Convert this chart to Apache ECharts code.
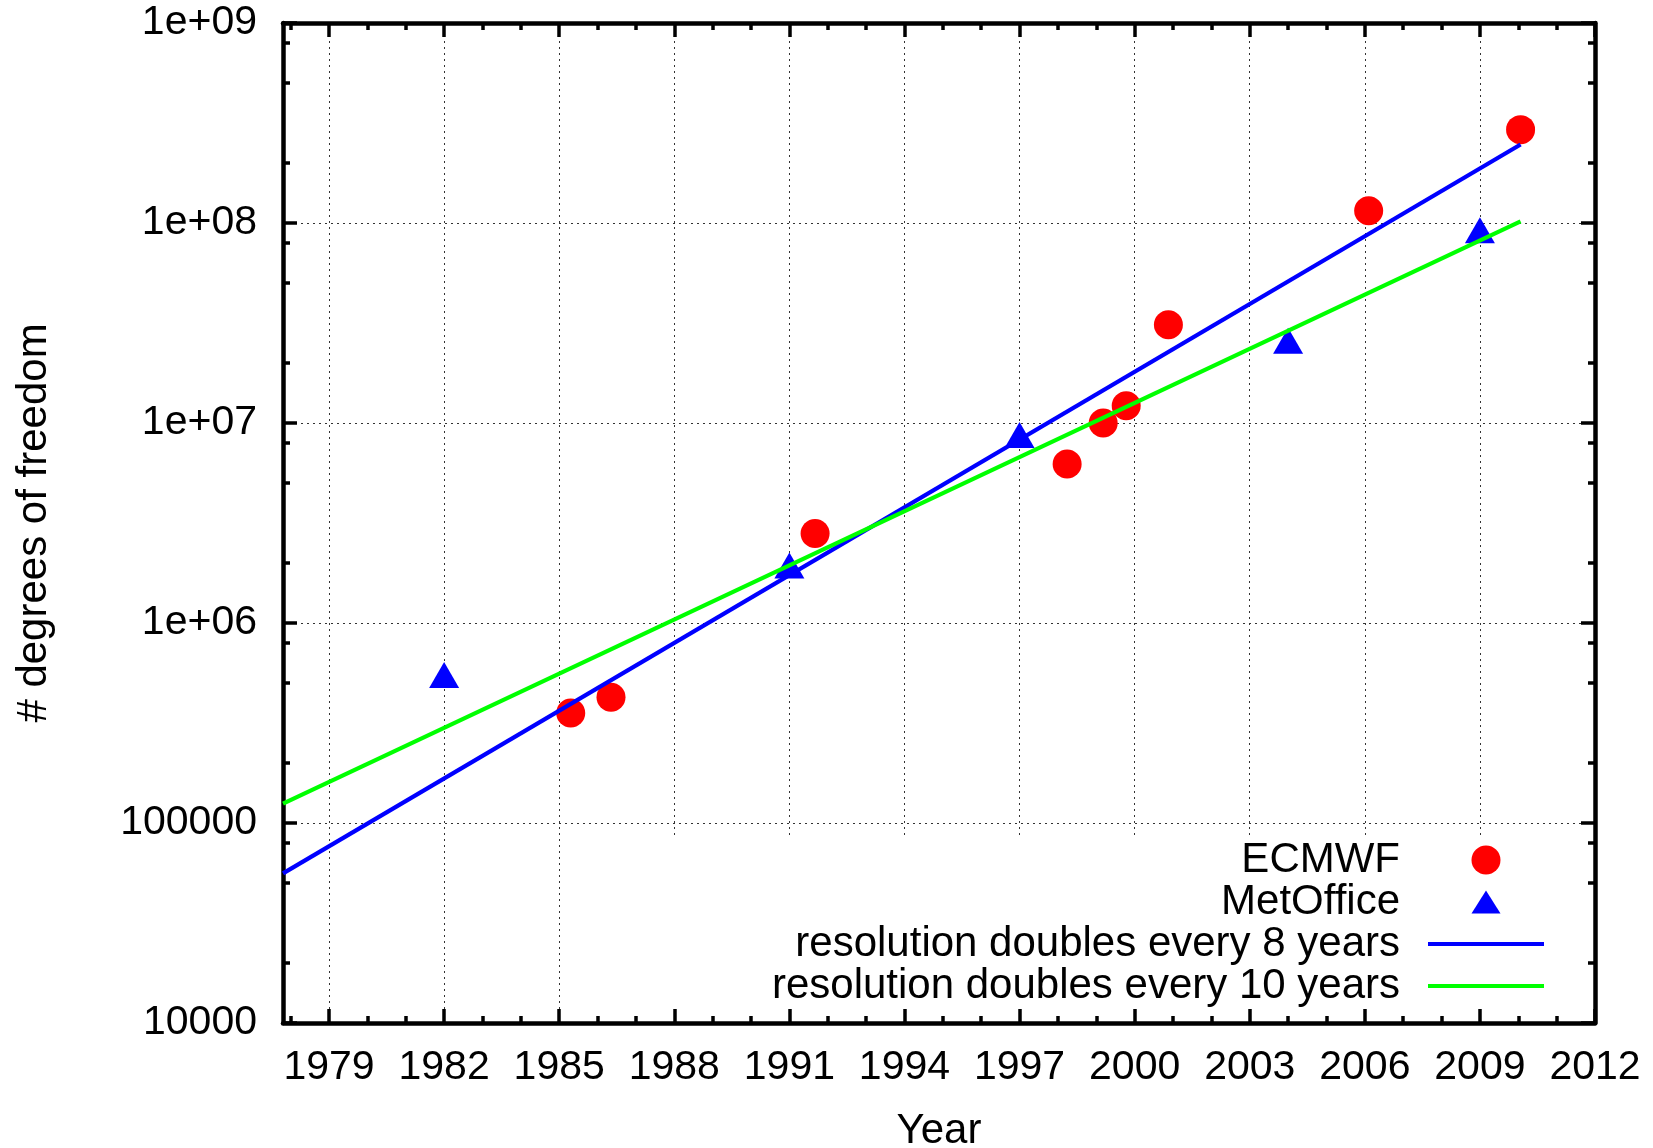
<!DOCTYPE html>
<html>
<head>
<meta charset="utf-8">
<script src="https://cdn.jsdelivr.net/npm/echarts@6/dist/echarts.min.js"></script>
<style>
html, body { margin: 0; padding: 0; background: #fff; }
#chart { width: 1653px; height: 1148px; }
</style>
</head>
<body>
<div id="chart"></div>
<script>
// Degrees of freedom of operational weather models, by year
const ecmwfYears = [1985.3, 1986.35, 1991.67, 1998.24, 1999.18, 1999.78, 2000.88, 2006.1, 2010.06];
const ecmwfDof = [3.55e5, 4.25e5, 2.8e6, 6.24e6, 1.0e7, 1.22e7, 3.1e7, 1.15e8, 2.93e8];
const metOfficeYears = [1982, 1991, 1997, 2004, 2009];
const metOfficeDof = [5.5e5, 1.94e6, 8.7e6, 2.58e7, 9.2e7];

// Trend lines (end points)
const trend8Years = [1977.8, 2010.06];
const trend8Dof = [5.6e4, 2.47e8];
const trend10Years = [1977.8, 2010.06];
const trend10Dof = [1.25e5, 1.02e8];

// Axis ticks
const xTicks = [1979, 1982, 1985, 1988, 1991, 1994, 1997, 2000, 2003, 2006, 2009, 2012];
const xMinorTicks = [1978, 1980, 1981, 1983, 1984, 1986, 1987, 1989, 1990, 1992, 1993, 1995, 1996,
  1998, 1999, 2001, 2002, 2004, 2005, 2007, 2008, 2010, 2011];
const yTicks = [1e4, 1e5, 1e6, 1e7, 1e8, 1e9];
const yTickLabels = ['10000', '100000', '1e+06', '1e+07', '1e+08', '1e+09'];
const yMinorTicks = [2e4, 5e4, 8e4, 2e5, 5e5, 8e5, 2e6, 5e6, 8e6, 2e7, 5e7, 8e7, 2e8, 5e8, 8e8];

const FONT = "'Liberation Sans', Arial, Helvetica, sans-serif";
const X_MIN = 1977.8, X_MAX = 2012;
const Y_MIN = 1e4, Y_MAX = 1e9;

const zip = (xs, ys) => xs.map((x, i) => [x, ys[i]]);

function yLabel(v) {
  for (let i = 0; i < yTicks.length; i++) {
    if (Math.abs(Math.log10(v) - Math.log10(yTicks[i])) < 1e-6) return yTickLabels[i];
  }
  return '';
}

const frameLine = { show: true, onZero: false, lineStyle: { color: '#000', width: 4.5 } };
const gridDots = { show: true, lineStyle: { color: '#333', width: 1, type: [2, 4] } };
const majorTick = (vals) => ({ show: true, inside: true, length: 14, customValues: vals,
  lineStyle: { color: '#000', width: 3.5 } });
const minorTick = (vals) => ({ show: true, inside: true, length: 7, customValues: vals,
  lineStyle: { color: '#000', width: 3.5 } });

function xAx(pos, ticks, isMajor, extra) {
  return Object.assign({
    type: 'value', min: X_MIN, max: X_MAX, position: pos,
    axisLine: isMajor ? frameLine : { show: false },
    axisTick: isMajor ? majorTick(ticks) : minorTick(ticks),
    axisLabel: { show: false },
    splitLine: { show: false }
  }, extra || {});
}
function yAx(pos, ticks, isMajor, extra) {
  return Object.assign({
    type: 'log', logBase: 10, min: Y_MIN, max: Y_MAX, position: pos,
    axisLine: isMajor ? frameLine : { show: false },
    axisTick: isMajor ? majorTick(ticks) : minorTick(ticks),
    axisLabel: { show: false },
    splitLine: { show: false }
  }, extra || {});
}

// Legend sample for the trend lines: a thin bar centred in the icon box
const LINE_ICON = 'path://M0,0M0,29M0,12.4L116,12.4L116,16.6L0,16.6Z';
const TRIANGLE_ICON = 'path://M0,0M0,29M14.5,3L29,26L0,26Z';

const chart = echarts.init(document.getElementById('chart'), null, { renderer: 'canvas' });

chart.setOption({
  animation: false,
  backgroundColor: '#fff',
  textStyle: { fontFamily: FONT },
  grid: { left: 283, right: 58, top: 23, bottom: 125, containLabel: false, outerBoundsMode: 'none' },
  xAxis: [
    xAx('bottom', xTicks, true, {
      name: 'Year', nameLocation: 'middle', nameGap: 87,
      nameTextStyle: { fontSize: 42, color: '#000', fontFamily: FONT },
      axisLabel: { show: true, customValues: xTicks, formatter: v => String(v),
        fontSize: 41, color: '#000', margin: 24, fontFamily: FONT },
      splitLine: gridDots
    }),
    xAx('bottom', xMinorTicks, false),
    xAx('top', xTicks, true),
    xAx('top', xMinorTicks, false)
  ],
  yAxis: [
    yAx('left', yTicks, true, {
      name: '# degrees of freedom', nameLocation: 'middle', nameGap: 228, nameRotate: 90,
      nameTextStyle: { fontSize: 42, color: '#000', fontFamily: FONT },
      axisLabel: { show: true, customValues: yTicks, formatter: yLabel,
        fontSize: 41, color: '#000', margin: 26, fontFamily: FONT },
      splitLine: gridDots
    }),
    yAx('left', yMinorTicks, false),
    yAx('right', yTicks, true),
    yAx('right', yMinorTicks, false)
  ],
  legend: {
    orient: 'vertical',
    right: 69, top: 838,
    padding: [1, 40, 2, 110],
    backgroundColor: '#fff',
    align: 'right',
    itemWidth: 116, itemHeight: 29, itemGap: 0,
    selectedMode: false,
    textStyle: { fontSize: 42, color: '#000', fontFamily: FONT, lineHeight: 42, padding: [0, 23, 0, 0] },
    data: [
      { name: 'ECMWF', icon: 'circle' },
      { name: 'MetOffice', icon: TRIANGLE_ICON },
      { name: 'resolution doubles every 8 years', icon: LINE_ICON },
      { name: 'resolution doubles every 10 years', icon: LINE_ICON }
    ]
  },
  series: [
    { name: 'ECMWF', type: 'scatter', data: zip(ecmwfYears, ecmwfDof),
      symbol: 'circle', symbolSize: 29, itemStyle: { color: '#ff0000', opacity: 1 }, z: 2 },
    { name: 'MetOffice', type: 'scatter', data: zip(metOfficeYears, metOfficeDof),
      symbol: 'triangle', symbolSize: [30, 26], itemStyle: { color: '#0000ff', opacity: 1 }, z: 2 },
    { name: 'resolution doubles every 8 years', type: 'line', data: zip(trend8Years, trend8Dof),
      symbol: 'none', lineStyle: { color: '#0000ff', width: 4.2 }, itemStyle: { color: '#0000ff' }, z: 3 },
    { name: 'resolution doubles every 10 years', type: 'line', data: zip(trend10Years, trend10Dof),
      symbol: 'none', lineStyle: { color: '#00ff00', width: 4.2 }, itemStyle: { color: '#00ff00' }, z: 3 }
  ]
});
</script>
</body>
</html>
